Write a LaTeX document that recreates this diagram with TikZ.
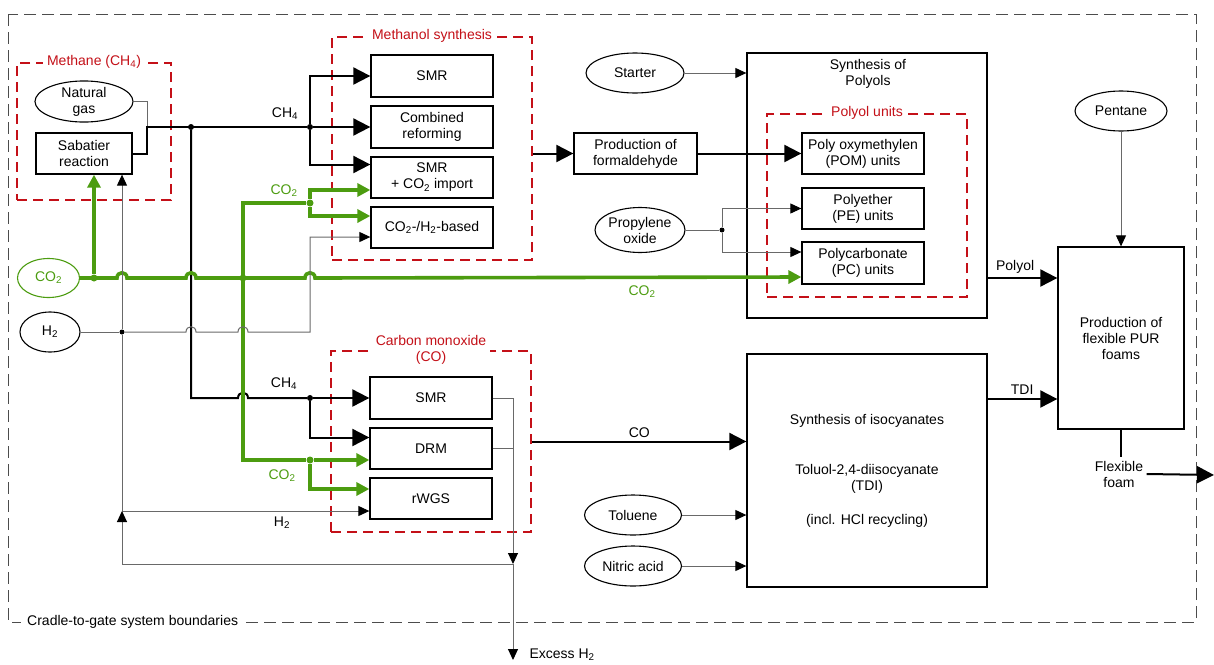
\documentclass[tikz,border=0pt]{standalone}
\usepackage{fontspec}
\setmainfont{Liberation Sans}
\usetikzlibrary{arrows.meta, shapes.geometric}
\definecolor{cred}{RGB}{196,16,24}
\definecolor{cgreen}{RGB}{76,156,16}
\definecolor{cgray}{RGB}{105,105,105}
% small bump of a horizontal line over a vertical one
\newcommand{\hop}[2]{-- ({#1-5},#2) .. controls +(0,-7) and +(0,-7) .. ({#1+5},#2)}

\begin{document}
\begin{tikzpicture}[
    x=1pt, y=-1pt,
    font=\fontsize{14}{16}\selectfont,
    box/.style={draw, line width=1.3pt, fill=white, align=center, inner sep=1pt},
    oval/.style={draw, ellipse, line width=1.1pt, align=center, inner sep=0pt, minimum height=40pt},
    grp/.style={draw=cred, line width=2.6pt, dash pattern=on 10pt off 6pt},
    grptitle/.style={text=cred, fill=white, inner sep=4pt, align=center},
    bnd/.style={draw=black!70, line width=1pt, dash pattern=on 12pt off 6pt},
    flow/.style={line width=2pt, -{Triangle[length=17pt, width=17pt]}},
    pipe/.style={line width=2pt},
    feed/.style={draw=cgray, line width=1pt, -{Triangle[length=11pt, width=10pt, color=black]}},
    gline/.style={draw=cgray, line width=1pt},
    gas/.style={draw=cgreen, line width=3.6pt, -{Triangle[length=13pt, width=13pt]}},
    gpipe/.style={draw=cgreen, line width=3.6pt},
    dot/.style={circle, fill=black, inner sep=0pt, minimum size=6pt},
    gdot/.style={circle, fill=cgreen, inner sep=0pt, minimum size=7pt}
]
    \useasboundingbox (0,0) rectangle (1214,664);

    % Systemgrenze
    \draw[bnd] (8,14) rectangle (1196,622);
    \node[fill=white, anchor=west, inner sep=6pt] (sysb) at (21,622) {Cradle-to-gate system boundaries};

    % Gruppen (rot gestrichelt)
    \node[grp, minimum width=154pt, minimum height=137pt] (methane) at (94,131.5) {};
    \node[grptitle] (methaneT) at (methane.north) {Methane (CH\textsubscript{4})};
    \node[grp, minimum width=200pt, minimum height=223pt] (methanol) at (432,148.5) {};
    \node[grptitle] (methanolT) at (methanol.north) {Methanol synthesis};
    \node[grp, minimum width=200pt, minimum height=181pt] (cogrp) at (431,441.5) {};
    \node[grptitle] (cogrpT) at (cogrp.north) {Carbon monoxide\\(CO)};

    % Methan
    \node[oval, minimum width=98pt, minimum height=39pt] (ngas) at (84,101.5) {Natural\\gas};
    \node[box, minimum width=96pt, minimum height=41pt] (sab) at (84,153.5) {Sabatier\\reaction};
    \coordinate (ch4a) at (147,127);
    \node[dot] (j1) at (191,127) {};
    \node[dot] (j2) at (310,127) {};
    \draw[gline] (ngas.east) -| (ch4a);
    \draw[pipe] (sab.east) -| (ch4a) -- (j2);
    \node (ch4T) at (285,114) {CH\textsubscript{4}};

    % Methanolsynthese
    \node[box, minimum width=122pt, minimum height=42pt] (msmr) at (432,76) {SMR};
    \node[box, minimum width=122pt, minimum height=42pt] (mcomb) at (432,127) {Combined\\reforming};
    \node[box, minimum width=122pt, minimum height=41pt] (mimp) at (432,177.5) {SMR\\+ CO\textsubscript{2} import};
    \node[box, minimum width=122pt, minimum height=41pt] (mh2) at (432,227.5) {CO\textsubscript{2}-/H\textsubscript{2}-based};
    \draw[flow] (j2) |- (msmr.west);
    \draw[flow] (j2) -- (mcomb.west);
    \draw[flow] (j2) |- ([yshift=13pt]mimp.west);

    % Formaldehyd
    \node[box, minimum width=123pt, minimum height=41pt] (form) at (635.5,153.5) {Production of\\formaldehyde};
    \draw[flow] (methanol.east |- form.west) -- (form.west);

    % Polyole
    \node[box, minimum width=240pt, minimum height=265pt] (polyols) at (867,185.5) {};
    \node[align=center] (polyolsT) at (868,73.5) {Synthesis of\\Polyols};
    \node[grp, minimum width=200pt, minimum height=183pt] (punits) at (867,205.5) {};
    \node[grptitle] (punitsT) at (punits.north) {Polyol units};
    \node[box, minimum width=122pt, minimum height=41pt] (pom) at (863,153.5) {Poly oxymethylen\\(POM) units};
    \node[box, minimum width=122pt, minimum height=41pt] (pe) at (863,208.5) {Polyether\\(PE) units};
    \node[box, minimum width=122pt, minimum height=42pt] (pc) at (863,263) {Polycarbonate\\(PC) units};
    \draw[flow] (form.east) -- (pom.west);

    \node[oval, minimum width=98pt] (starter) at (635,73) {Starter};
    \draw[feed] (starter.east) -- (starter.east -| polyols.west);

    \node[oval, minimum width=90pt, minimum height=45pt] (prop) at (640,230) {Propylene\\oxide};
    \node[dot, minimum size=5pt] (jp) at (722,230) {};
    \draw[gline] (prop.east) -- (jp);
    \draw[feed] (jp) |- (pe.west);
    \draw[feed] (jp) |- ([yshift=11pt]pc.west);

    % Schaum
    \node[oval, minimum width=92pt] (pent) at (1121,111) {Pentane};
    \node[box, minimum width=126pt, minimum height=182pt] (foam) at (1121,338) {Production of\\flexible PUR\\foams};
    \draw[feed] (pent.south) -- (foam.north);
    \coordinate (polout) at (987,278);
    \draw[flow] (polout) -- (polout -| foam.west) node[pos=0.4, above] (polyolL) {Polyol};

    % Isocyanate
    \node[box, minimum width=240pt, minimum height=233pt] (iso) at (867,470.5) {Synthesis of isocyanates\\[34pt]Toluol-2,4-diisocyanate\\(TDI)\\[18pt](incl. HCl recycling)};
    \coordinate (tdiout) at (987,399);
    \draw[flow] (tdiout) -- (tdiout -| foam.west) node[midway, above] (tdiL) {TDI};
    \node[oval, minimum width=97pt] (tol) at (633,515) {Toluene};
    \node[oval, minimum width=97pt] (nit) at (633,566) {Nitric acid};
    \draw[feed] (tol.east) -- (tol.east -| iso.west);
    \draw[feed] (nit.east) -- (nit.east -| iso.west);

    \node[align=center] (ffoam) at (1119,474) {Flexible\\foam};
    \coordinate (fout) at (1214,475);
    \draw[pipe] (foam.south) -- (foam.south |- ffoam.north);
    \draw[flow] (ffoam.east) -- (fout);

    % Kohlenmonoxid
    \node[box, minimum width=122pt, minimum height=42pt] (csmr) at (431,398) {SMR};
    \node[box, minimum width=122pt, minimum height=41pt] (cdrm) at (431,448.5) {DRM};
    \node[box, minimum width=122pt, minimum height=41pt] (crwgs) at (431,498.5) {rWGS};
    \coordinate (ch4b) at (191,398);
    \node[dot] (j4) at (310,398) {};
    \draw[pipe] (j1) -- (ch4b) \hop{243}{398} -- (j4);
    \draw[flow] (j4) -- (csmr.west);
    \draw[flow] (j4) |- ([yshift=11pt]cdrm.west);
    \node (ch4T2) at (284,384) {CH\textsubscript{4}};
    \draw[flow] (cogrp.east) -- (cogrp.east -| iso.west) node[midway, above] (coL) {CO};

    % CO2
    \node[oval, draw=cgreen, text=cgreen, minimum width=62pt, minimum height=39pt] (co2) at (48.5,278) {CO\textsubscript{2}};
    \node[gdot] (g1) at (94,278) {};
    \node[gdot] (g2) at (243,278) {};
    \node[gdot] (g3) at (310,203) {};
    \node[gdot] (g4) at (310,460) {};
    \coordinate (gtop) at (243,203);
    \coordinate (gbot) at (243,460);
    \draw[gas] (co2.east) \hop{122}{278} \hop{191}{278} \hop{310}{278} -- ([yshift=-14pt]pc.west);
    \draw[gas] (g1) -- (g1 |- sab.south);
    \draw[gpipe] (g3) -- (gtop) -- (gbot) -- (g4);
    \draw[gas] (g3) |- ([yshift=-12.5pt]mimp.west);
    \draw[gas] (g3) |- ([yshift=11.5pt]mh2.west);
    \draw[gas] (g4) -- ([yshift=-11.5pt]cdrm.west);
    \draw[gas] (g4) |- ([yshift=9.5pt]crwgs.west);
    \node[text=cgreen] (co2L1) at (284,191) {CO\textsubscript{2}};
    \node[text=cgreen] (co2L2) at (282,476) {CO\textsubscript{2}};
    \node[text=cgreen] (co2L3) at (642,292) {CO\textsubscript{2}};

    % H2
    \node[oval, minimum width=60pt] (h2) at (50,332) {H\textsubscript{2}};
    \node[dot, minimum size=5pt] (jh) at (122,332) {};
    \coordinate (hcor) at (310,332);
    \coordinate (hr) at (122,511);
    \draw[gline] (h2.east) -- (jh);
    \draw[feed] (jh) \hop{191}{332} \hop{243}{332} -- (hcor) |- ([yshift=-9.5pt]mh2.west);
    \draw[feed] (jh) -- (jh |- sab.south);
    \draw[gline] (jh) -- (hr);
    \draw[feed] (hr) -- (hr -| crwgs.west);
    \node (h2L) at (282,523) {H\textsubscript{2}};

    % Ueberschuss H2
    \coordinate (exj) at (513,564);
    \coordinate (exend) at (513,660);
    \draw[feed] (csmr.east) -| (exj);
    \draw[gline] (cdrm.east) -- (cdrm.east -| exj);
    \draw[feed] (exj) -- (exend);
    \draw[feed] (exj) -| (hr);
    \node[anchor=west] (exL) at (526,655) {Excess H\textsubscript{2}};

\end{tikzpicture}
\end{document}
